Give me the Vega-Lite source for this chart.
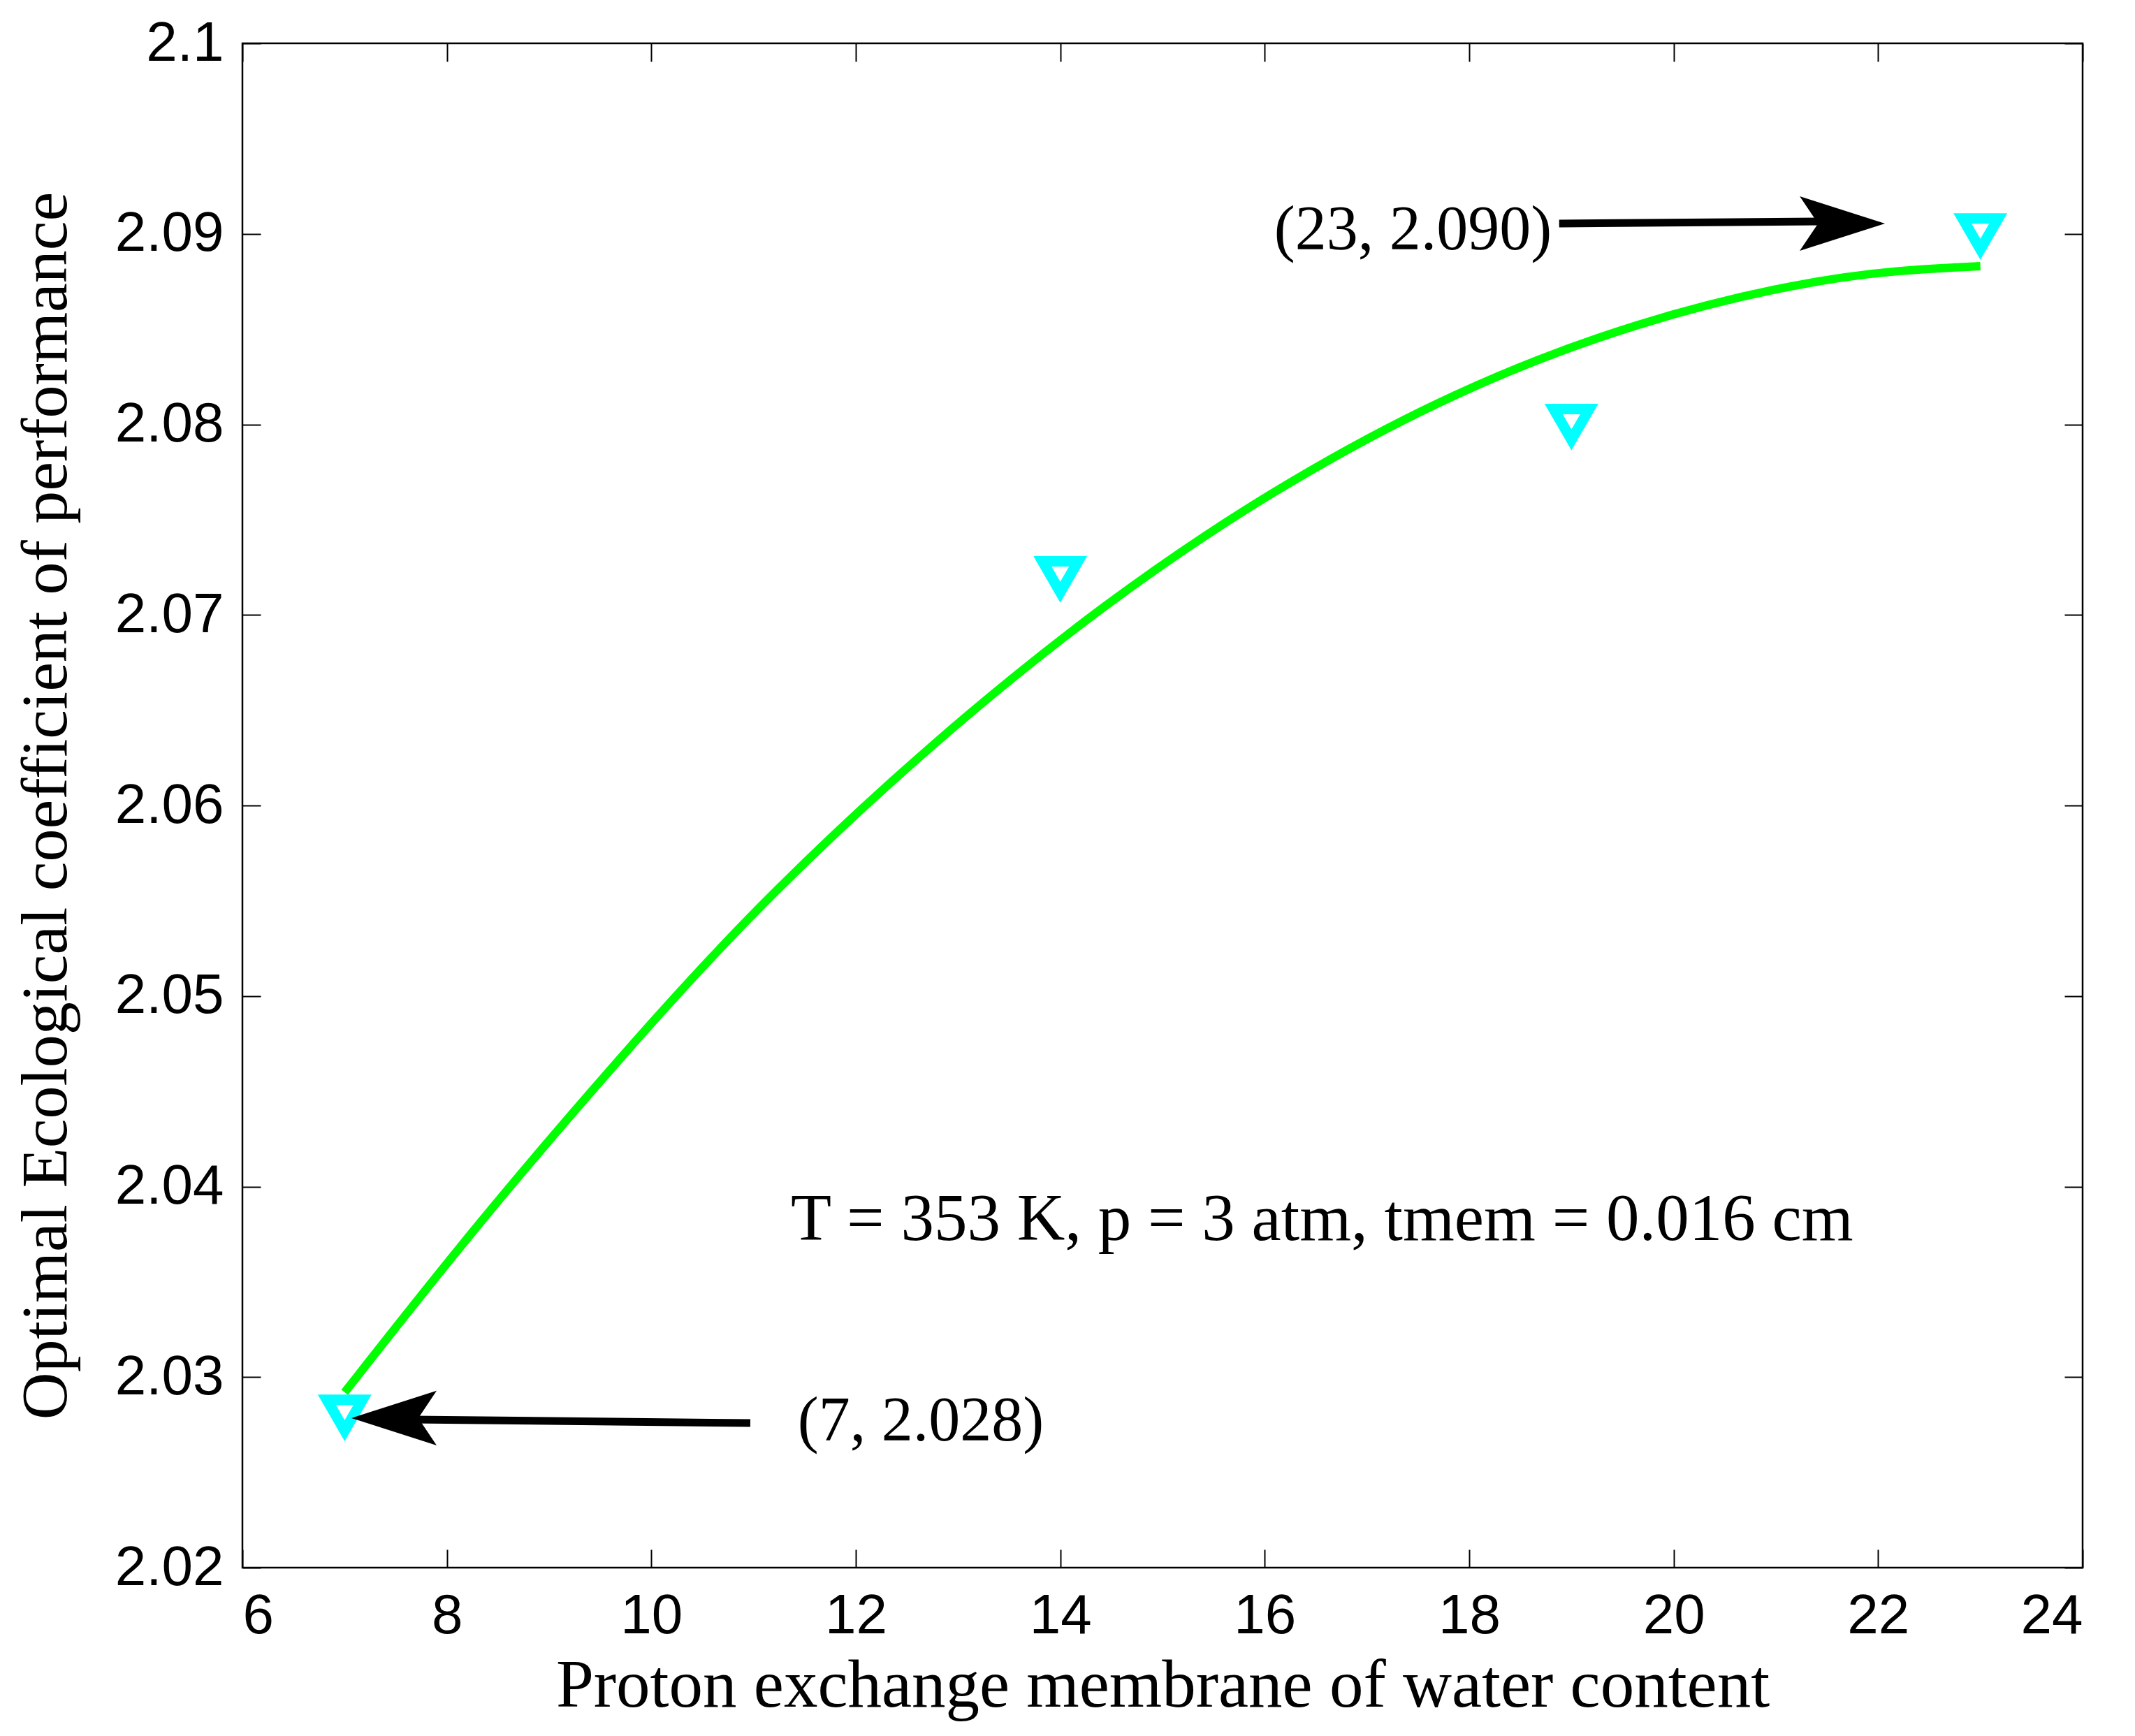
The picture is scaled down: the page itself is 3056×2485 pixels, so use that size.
{
  "$schema": "https://vega.github.io/schema/vega-lite/v6.json",
  "width": 2634,
  "height": 2182,
  "autosize": {"type": "none"},
  "padding": {"left": 347, "top": 62, "right": 75, "bottom": 241},
  "background": "white",
  "datasets": {
    "curve": [
      {"x": 7.0, "y": 2.0292},
      {"x": 8.29, "y": 2.0380},
      {"x": 9.73, "y": 2.0470},
      {"x": 11.01, "y": 2.0546},
      {"x": 12.74, "y": 2.0633},
      {"x": 14.45, "y": 2.0707},
      {"x": 16.05, "y": 2.0765},
      {"x": 17.86, "y": 2.0818},
      {"x": 19.69, "y": 2.0855},
      {"x": 21.28, "y": 2.0875},
      {"x": 22.2, "y": 2.0881},
      {"x": 23.0, "y": 2.0883}
    ],
    "markers": [
      {"x": 7, "y": 2.028},
      {"x": 14, "y": 2.072},
      {"x": 19, "y": 2.08},
      {"x": 23, "y": 2.09}
    ],
    "arrows": [
      {"x1": 18.88, "y1": 2.09054, "x2": 21.65, "y2": 2.09066, "hx": 21.65, "hy": 2.09054, "dir": "right"},
      {"x1": 10.968, "y1": 2.02759, "x2": 7.483, "y2": 2.02778, "hx": 7.483, "hy": 2.02785, "dir": "left"}
    ],
    "coords": [
      {"x": 17.45, "y": 2.08918, "label": "(23, 2.090)"},
      {"x": 12.636, "y": 2.02667, "label": "(7, 2.028)"}
    ],
    "note": [
      {"x": 16.56, "y": 2.0372, "label": "T = 353 K, p = 3 atm, tmem = 0.016 cm"}
    ]
  },
  "config": {
    "view": {"stroke": "black", "strokeWidth": 2.5},
    "axis": {
      "grid": false,
      "domain": false,
      "ticks": true,
      "tickSize": -26,
      "tickColor": "black",
      "tickWidth": 2,
      "labelFont": "Liberation Sans",
      "labelFontSize": 80,
      "labelColor": "black",
      "titleFont": "Liberation Serif",
      "titleFontSize": 95,
      "titleFontWeight": "normal",
      "titleColor": "black"
    }
  },
  "layer": [
    {
      "data": {"name": "curve"},
      "mark": {"type": "line", "color": "#00ff00", "strokeWidth": 12, "interpolate": "basis", "strokeCap": "butt"},
      "encoding": {
        "x": {
          "field": "x", "type": "quantitative",
          "scale": {"domain": [6, 24], "nice": false, "zero": false},
          "axis": {
            "orient": "bottom",
            "values": [6, 8, 10, 12, 14, 16, 18, 20, 22, 24],
            "labelPadding": 56,
            "title": "Proton exchange membrane of water content",
            "titleFontSize": 97,
            "titlePadding": 12
          }
        },
        "y": {
          "field": "y", "type": "quantitative",
          "scale": {"domain": [2.02, 2.1], "nice": false, "zero": false},
          "axis": {
            "orient": "left",
            "values": [2.02, 2.03, 2.04, 2.05, 2.06, 2.07, 2.08, 2.09, 2.1],
            "format": ".3~f",
            "labelPadding": 53,
            "title": "Optimal Ecological coefficient of performance",
            "titleFontSize": 94,
            "titlePadding": 50
          }
        }
      }
    },
    {
      "data": {"name": "markers"},
      "mark": {"type": "point", "shape": "triangle-down", "filled": false, "stroke": "#00ffff", "strokeWidth": 15, "size": 2600, "opacity": 1},
      "encoding": {
        "x": {
          "field": "x", "type": "quantitative",
          "axis": {"orient": "top", "values": [6, 8, 10, 12, 14, 16, 18, 20, 22, 24], "labels": false, "title": null}
        },
        "y": {
          "field": "y", "type": "quantitative",
          "axis": {"orient": "right", "values": [2.02, 2.03, 2.04, 2.05, 2.06, 2.07, 2.08, 2.09, 2.1], "labels": false, "title": null}
        }
      }
    },
    {
      "data": {"name": "arrows"},
      "mark": {"type": "rule", "color": "black", "strokeWidth": 11, "strokeCap": "butt"},
      "encoding": {
        "x": {"field": "x1", "type": "quantitative", "axis": null},
        "y": {"field": "y1", "type": "quantitative", "axis": null},
        "x2": {"field": "x2"},
        "y2": {"field": "y2"}
      }
    },
    {
      "data": {"name": "arrows"},
      "mark": {"type": "point", "filled": true, "color": "black", "strokeWidth": 0, "size": 14884, "opacity": 1},
      "encoding": {
        "x": {"field": "hx", "type": "quantitative", "axis": null},
        "y": {"field": "hy", "type": "quantitative", "axis": null},
        "shape": {
          "field": "dir", "type": "nominal", "legend": null,
          "scale": {"domain": ["right", "left"], "range": ["M1,0L-1,-0.64L-0.57,0L-1,0.64Z", "M-1,0L1,-0.64L0.57,0L1,0.64Z"]}
        }
      }
    },
    {
      "data": {"name": "coords"},
      "mark": {"type": "text", "font": "Liberation Serif", "fontSize": 90, "align": "center", "baseline": "alphabetic", "color": "black"},
      "encoding": {
        "x": {"field": "x", "type": "quantitative", "axis": null},
        "y": {"field": "y", "type": "quantitative", "axis": null},
        "text": {"field": "label"}
      }
    },
    {
      "data": {"name": "note"},
      "mark": {"type": "text", "font": "Liberation Serif", "fontSize": 95, "align": "center", "baseline": "alphabetic", "color": "black"},
      "encoding": {
        "x": {"field": "x", "type": "quantitative", "axis": null},
        "y": {"field": "y", "type": "quantitative", "axis": null},
        "text": {"field": "label"}
      }
    }
  ],
  "resolve": {"axis": {"x": "independent", "y": "independent"}}
}
